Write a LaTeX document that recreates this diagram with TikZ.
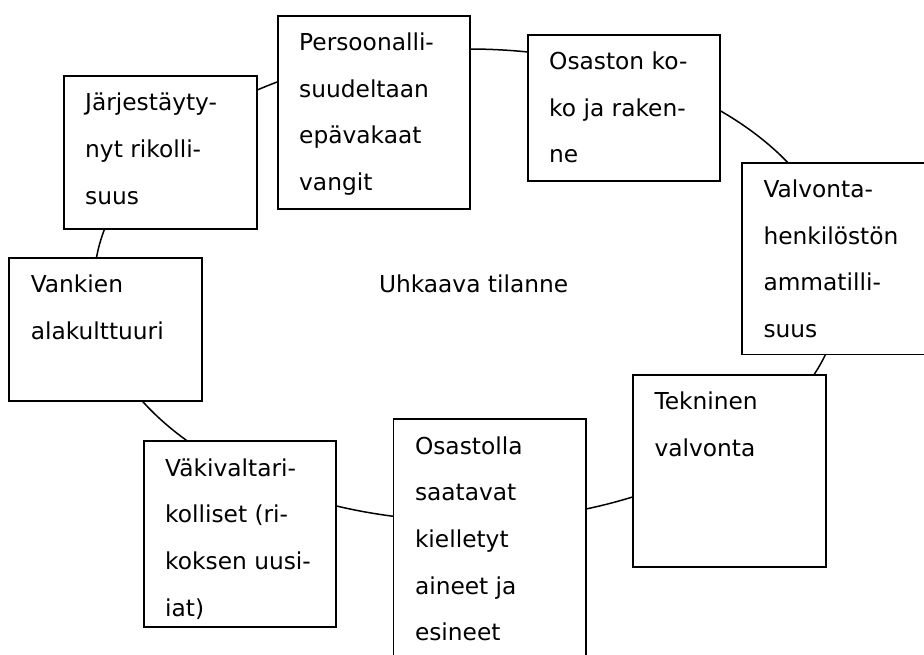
\documentclass[tikz,border=0pt]{standalone}
\usepackage{fontspec}
\setmainfont{DejaVu Sans}
\usetikzlibrary{shapes.geometric}
\begin{document}
\begin{tikzpicture}[x=1pt,y=1pt,
  box/.style={draw=black, fill=white, line width=1.7pt, rectangle, inner sep=0pt, outer sep=0pt, anchor=north west},
  ringstyle/.style={draw=black, line width=1.5pt, ellipse, inner sep=0pt, outer sep=0pt},
  txt/.style={inner sep=0pt, outer sep=0pt, anchor=base west, text=black, font=\fontsize{23.3}{46.6}\selectfont}]
\useasboundingbox (0,0) rectangle (924,655);
\clip (0,0) rectangle (924,655);
\fill[white] (0,0) rectangle (924,655);
% ring behind the boxes
\node[ringstyle, minimum width=748pt, minimum height=472pt] (ring) at (468,370) {};
% boxes (top-left corner given; y = 655 - pixel row)
\node[box, minimum width=193pt, minimum height=153.3pt] (b1) at (63.7,579) {};
\node[box, minimum width=192.3pt, minimum height=193.3pt] (b2) at (277.7,639.3) {};
\node[box, minimum width=192.6pt, minimum height=146.6pt] (b3) at (527.7,620.3) {};
\node[box, minimum width=193pt, minimum height=191.8pt] (b4) at (742,492.3) {};
\node[box, minimum width=192.7pt, minimum height=192.3pt] (b5) at (633,280) {};
\node[box, minimum width=192.2pt, minimum height=240pt] (b6) at (393.5,235.7) {};
\node[box, minimum width=192.3pt, minimum height=185.7pt] (b7) at (143.7,213.7) {};
\node[box, minimum width=192.6pt, minimum height=143.1pt] (b8) at (9.3,397.3) {};
% texts
\node[txt] (t1) at (85.2,544) {\parbox[t]{180pt}{Järjestäyty-\\nyt rikolli-\\suus}};
\node[txt] (t2) at (299.2,604.3) {\parbox[t]{180pt}{Persoonalli-\\suudeltaan\\epävakaat\\vangit}};
\node[txt] (t3) at (549.2,585.3) {\parbox[t]{180pt}{Osaston ko-\\ko ja raken-\\ne}};
\node[txt] (t4) at (763.5,457.3) {\parbox[t]{180pt}{Valvonta-\\henkilöstön\\ammatilli-\\suus}};
\node[txt] (t5) at (654.5,245) {\parbox[t]{180pt}{Tekninen\\valvonta}};
\node[txt] (t6) at (415,200.7) {\parbox[t]{180pt}{Osastolla\\saatavat\\kielletyt\\aineet ja\\esineet}};
\node[txt] (t7) at (165.2,178.7) {\parbox[t]{180pt}{Väkivaltari-\\kolliset (ri-\\koksen uusi-\\iat)}};
\node[txt] (t8) at (30.8,362.3) {\parbox[t]{180pt}{Vankien\\alakulttuuri}};
\node[txt] (center) at (379,362.7) {Uhkaava tilanne};
\end{tikzpicture}
\end{document}
